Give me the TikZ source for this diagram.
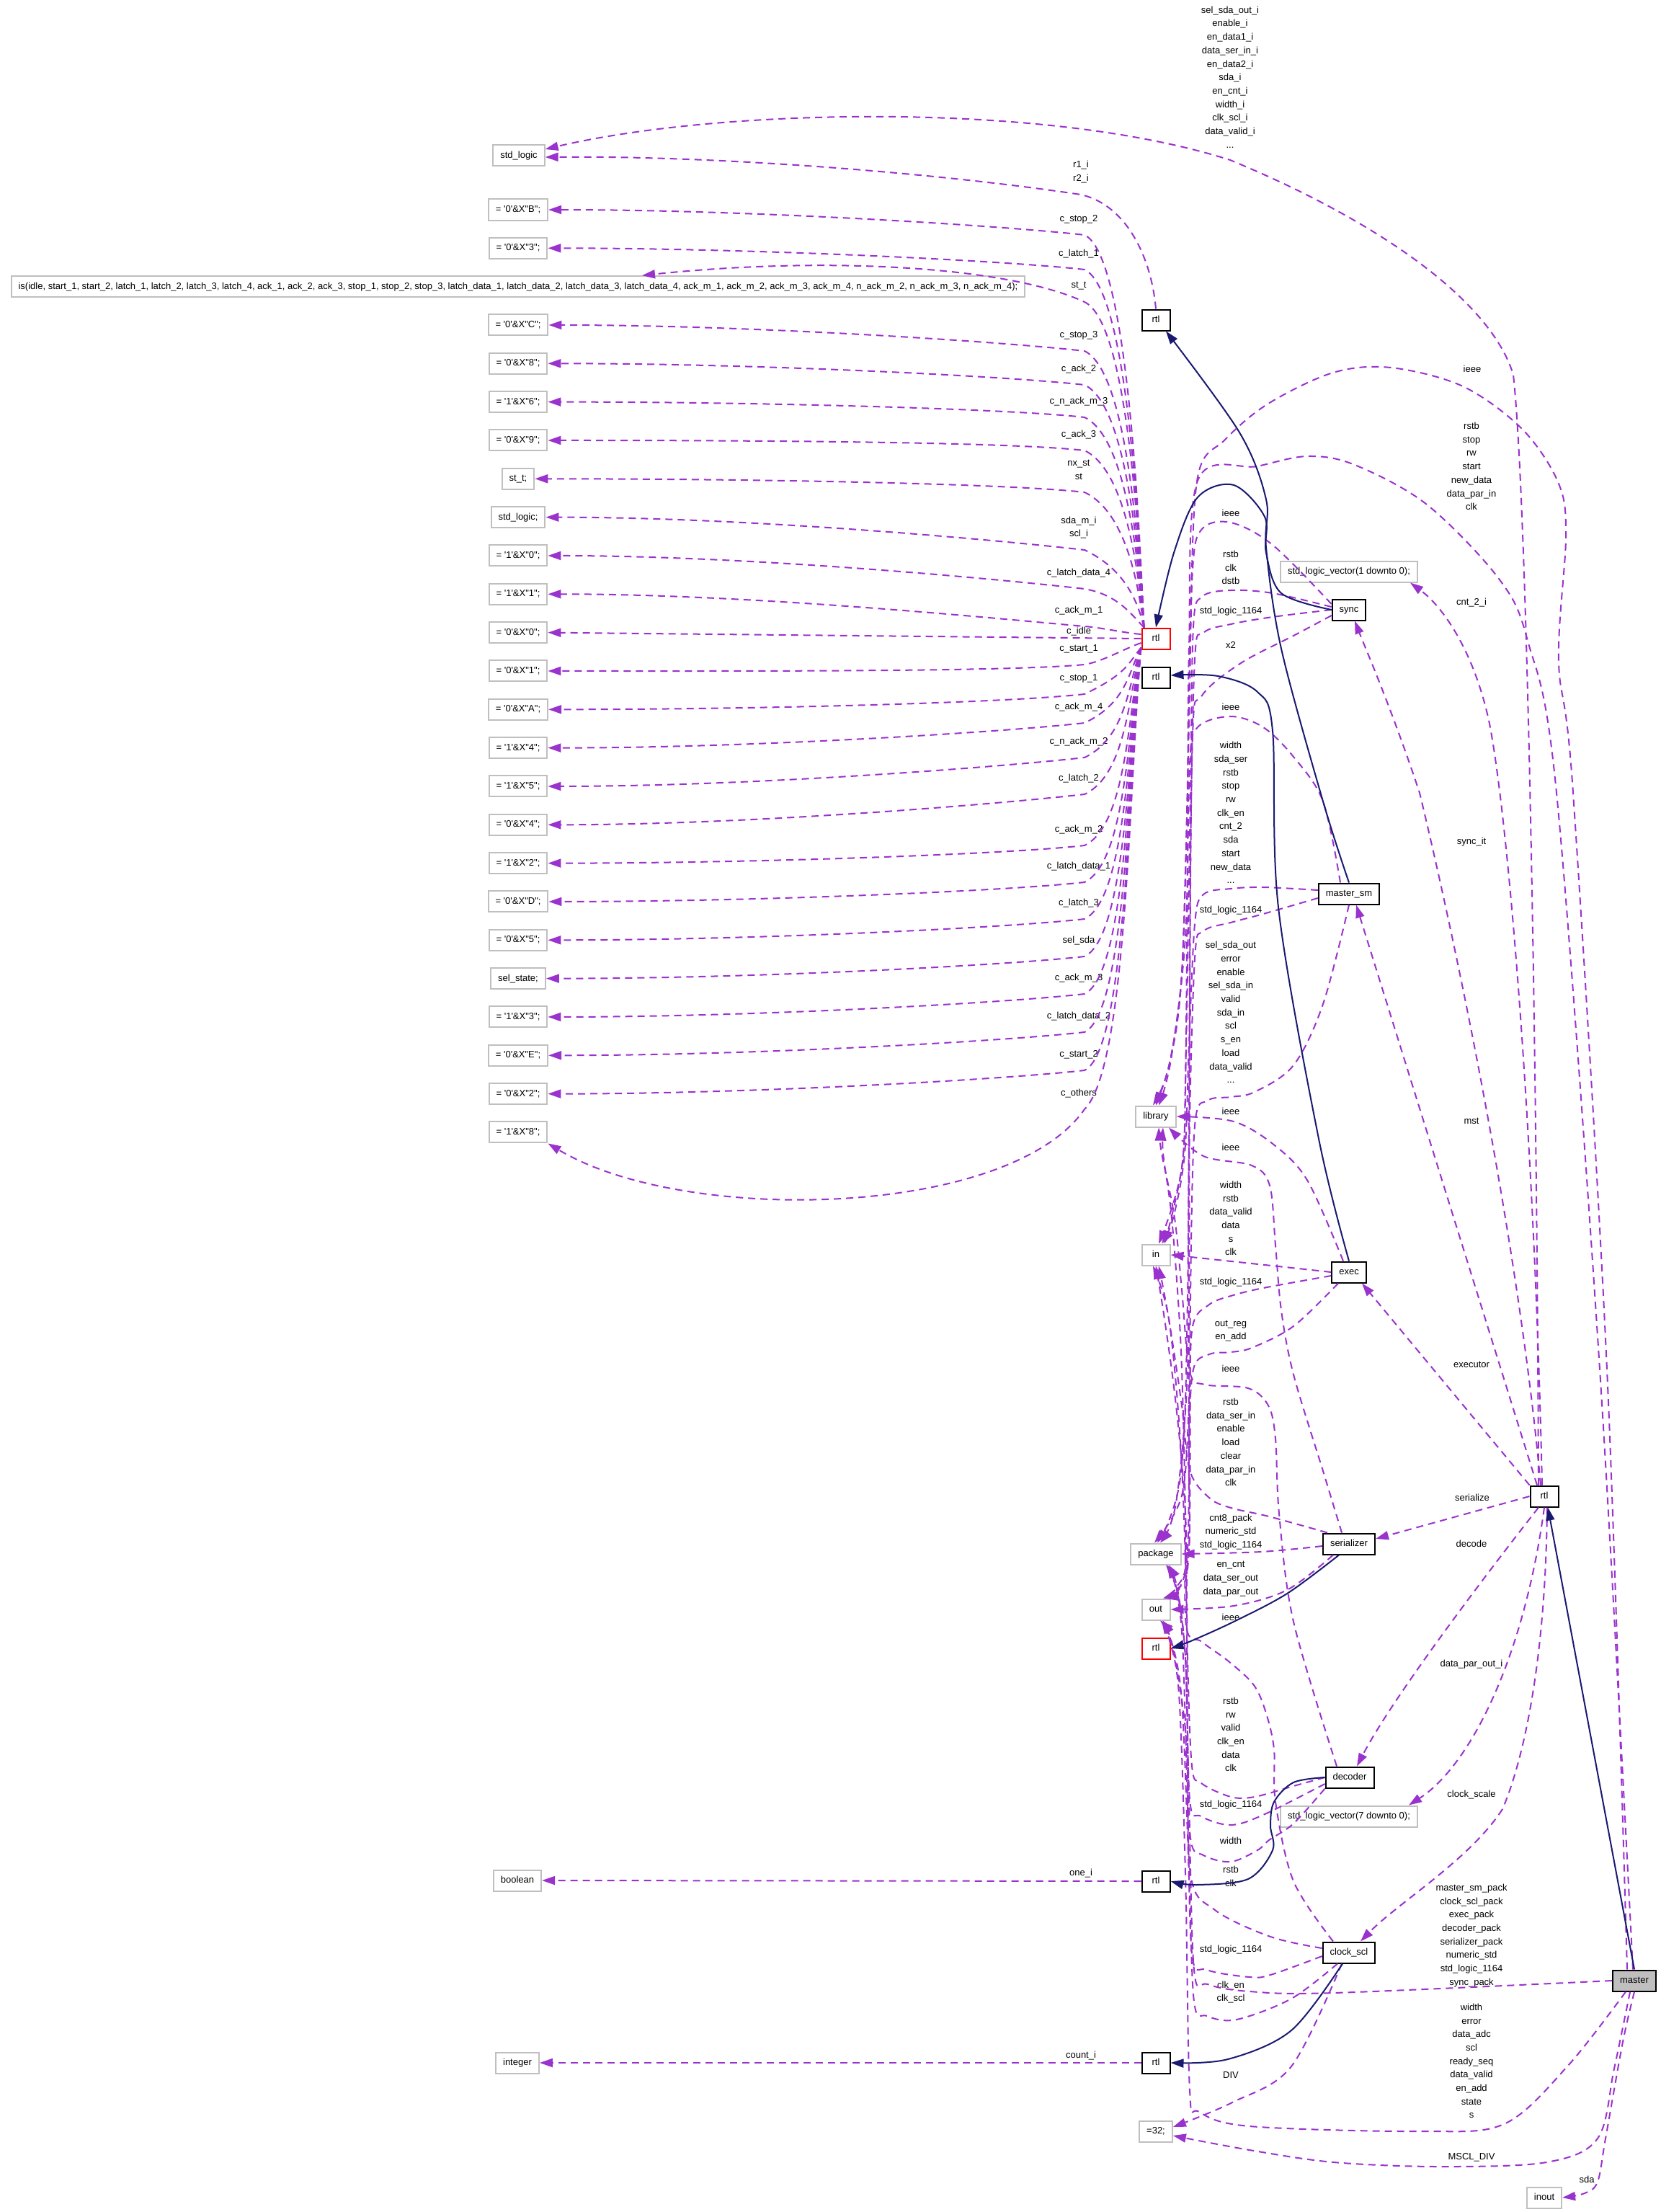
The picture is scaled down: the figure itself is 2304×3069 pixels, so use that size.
\documentclass[tikz,border=0pt]{standalone}
\usepackage{fontspec}
\newfontfamily\dxfont{Liberation Sans}
\usetikzlibrary{arrows.meta}
\definecolor{dxpurple}{HTML}{9A32CD}
\definecolor{dxnavy}{HTML}{191970}
\definecolor{dxgray}{HTML}{BFBFBF}
\tikzset{
  box/.style={draw=black, line width=2pt, fill=white, inner xsep=10pt, inner ysep=0pt,
    minimum height=29pt, minimum width=39pt, text height=9.5pt, text depth=2.5pt},
  gbox/.style={box, draw=dxgray},
  rbox/.style={box, draw=red},
  mbox/.style={box, fill=dxgray},
  lbl/.style={align=center, inner sep=0pt},
  dep/.style={draw=dxpurple, line width=2pt, dash pattern=on 10pt off 7pt,
    -{Triangle[length=18pt,width=12pt]}},
  inh/.style={draw=dxnavy, line width=2pt, -{Triangle[length=18pt,width=12pt]}},
  curvy/.style={smooth, tension=0.55},
}
\begin{document}
\begin{tikzpicture}[x=1pt, y=-1pt, font=\dxfont\fontsize{13pt}{18.7pt}\selectfont]
\fill[white] (0,0) rectangle (2304,3069);

% left column: types and constants
\node[gbox] (sl) at (720,216) {std\_logic};
\foreach \t [count=\i] in {{= '0'\&X"B";}, {= '0'\&X"3";},
  {is(idle, start\_1, start\_2, latch\_1, latch\_2, latch\_3, latch\_4, ack\_1, ack\_2, ack\_3, stop\_1, stop\_2, stop\_3, latch\_data\_1, latch\_data\_2, latch\_data\_3, latch\_data\_4, ack\_m\_1, ack\_m\_2, ack\_m\_3, ack\_m\_4, n\_ack\_m\_2, n\_ack\_m\_3, n\_ack\_m\_4);},
  {= '0'\&X"C";}, {= '0'\&X"8";}, {= '1'\&X"6";}, {= '0'\&X"9";}, {st\_t;}, {std\_logic;},
  {= '1'\&X"0";}, {= '1'\&X"1";}, {= '0'\&X"0";}, {= '0'\&X"1";}, {= '0'\&X"A";},
  {= '1'\&X"4";}, {= '1'\&X"5";}, {= '0'\&X"4";}, {= '1'\&X"2";}, {= '0'\&X"D";},
  {= '0'\&X"5";}, {sel\_state;}, {= '1'\&X"3";}, {= '0'\&X"E";}, {= '0'\&X"2";}, {= '1'\&X"8";}}
  \node[gbox] (v\i) at (719,{291+53.33*(\i-1)}) {\t};
\node[gbox] (bool) at (718,2609) {boolean};
\node[gbox] (int) at (718,2862) {integer};

% middle column
\node[box] (rtop) at (1604,444) {rtl};
\node[rbox] (rred) at (1604,886) {rtl};
\node[box] (rmid) at (1604,940) {rtl};
\node[gbox] (lib) at (1604,1549) {library};
\node[gbox] (pin) at (1604,1741) {in};
\node[gbox] (pkg) at (1604,2156) {package};
\node[gbox] (pout) at (1604,2233) {out};
\node[rbox] (rred2) at (1604,2287) {rtl};
\node[box] (rone) at (1604,2610) {rtl};
\node[box] (rcnt) at (1604,2862) {rtl};
\node[gbox] (div) at (1604,2957) {=32;};

% right column
\node[gbox] (sv1) at (1872,793) {std\_logic\_vector(1 downto 0);};
\node[box] (sync) at (1872,846) {sync};
\node[box] (msm) at (1872,1240) {master\_sm};
\node[box] (exec) at (1872,1765) {exec};
\node[box] (ser) at (1872,2142) {serializer};
\node[box] (dec) at (1873,2466) {decoder};
\node[gbox] (sv7) at (1872,2520) {std\_logic\_vector(7 downto 0);};
\node[box] (clk) at (1872,2709) {clock\_scl};
\node[box] (rr) at (2143,2076) {rtl};
\node[mbox] (mst) at (2268,2748) {master};
\node[gbox] (io) at (2143,3049) {inout};

% labels of the constant edges
\foreach \l/\ly [count=\i] in {c\_stop\_2/304, c\_latch\_1/352, st\_t/397, c\_stop\_3/465,
  c\_ack\_2/512, c\_n\_ack\_m\_3/557, c\_ack\_3/603, {nx\_st\\st}/652, {sda\_m\_i\\scl\_i}/732,
  c\_latch\_data\_4/795, c\_ack\_m\_1/847, c\_idle/876, c\_start\_1/900, c\_stop\_1/941,
  c\_ack\_m\_4/981, c\_n\_ack\_m\_2/1029, c\_latch\_2/1080, c\_ack\_m\_2/1151,
  c\_latch\_data\_1/1202, c\_latch\_3/1253, sel\_sda/1305, c\_ack\_m\_3/1357,
  c\_latch\_data\_2/1410, c\_start\_2/1463, c\_others/1517}
  \node[lbl] (lv\i) at (1497,\ly) {\l};
\node[lbl] (rt1) at (1500,238.5) {r1\_i\\r2\_i};
\node[lbl] (ro1) at (1500,2599) {one\_i};
\node[lbl] (rc1) at (1500,2852) {count\_i};

% labels next to the bundle
\node[lbl] (sy1) at (1708,712) {ieee};
\node[lbl] (sy2) at (1708,787.5) {rstb\\clk\\dstb};
\node[lbl] (sy3) at (1708,848) {std\_logic\_1164};
\node[lbl] (sy4) at (1708,895) {x2};
\node[lbl] (ms1) at (1708,981) {ieee};
\node[lbl] (ms2) at (1708,1127.5) {width\\sda\_ser\\rstb\\stop\\rw\\clk\_en\\cnt\_2\\sda\\start\\new\_data\\...};
\node[lbl] (ms3) at (1708,1263) {std\_logic\_1164};
\node[lbl] (ms4) at (1708,1404.5) {sel\_sda\_out\\error\\enable\\sel\_sda\_in\\valid\\sda\_in\\scl\\s\_en\\load\\data\_valid\\...};
\node[lbl] (ex1) at (1708,1542) {ieee};
\node[lbl] (se1) at (1708,1592) {ieee};
\node[lbl] (ex2) at (1708,1690.5) {width\\rstb\\data\_valid\\data\\s\\clk};
\node[lbl] (ex3) at (1708,1779) {std\_logic\_1164};
\node[lbl] (ex4) at (1708,1846.5) {out\_reg\\en\_add};
\node[lbl] (de1) at (1708,1899) {ieee};
\node[lbl] (se2) at (1708,2001) {rstb\\data\_ser\_in\\enable\\load\\clear\\data\_par\_in\\clk};
\node[lbl] (se3) at (1708,2125.5) {cnt8\_pack\\numeric\_std\\std\_logic\_1164};
\node[lbl] (se4) at (1708,2190.5) {en\_cnt\\data\_ser\_out\\data\_par\_out};
\node[lbl] (cs1) at (1708,2244) {ieee};
\node[lbl] (de2) at (1708,2406.5) {rstb\\rw\\valid\\clk\_en\\data\\clk};
\node[lbl] (de3) at (1708,2504) {std\_logic\_1164};
\node[lbl] (de4) at (1708,2554) {width};
\node[lbl] (cs2) at (1708,2603.5) {rstb\\clk};
\node[lbl] (cs3) at (1708,2705) {std\_logic\_1164};
\node[lbl] (cs4) at (1708,2764) {clk\_en\\clk\_scl};
\node[lbl] (cs5) at (1708,2879) {DIV};

% labels on the right
\node[lbl] (rr1) at (1707,107) {sel\_sda\_out\_i\\enable\_i\\en\_data1\_i\\data\_ser\_in\_i\\en\_data2\_i\\sda\_i\\en\_cnt\_i\\width\_i\\clk\_scl\_i\\data\_valid\_i\\...};
\node[lbl] (mr1) at (2043,512) {ieee};
\node[lbl] (mr2) at (2042,647) {rstb\\stop\\rw\\start\\new\_data\\data\_par\_in\\clk};
\node[lbl] (rr2) at (2042,836) {cnt\_2\_i};
\node[lbl] (rr3) at (2042,1168) {sync\_it};
\node[lbl] (rr4) at (2042,1555) {mst};
\node[lbl] (rr5) at (2042,1893) {executor};
\node[lbl] (rr6) at (2043,2078) {serialize};
\node[lbl] (rr7) at (2042,2142) {decode};
\node[lbl] (rr8) at (2042,2309) {data\_par\_out\_i};
\node[lbl] (rr9) at (2042,2490) {clock\_scale};
\node[lbl] (mr3) at (2042,2685.5) {master\_sm\_pack\\clock\_scl\_pack\\exec\_pack\\decoder\_pack\\serializer\_pack\\numeric\_std\\std\_logic\_1164\\sync\_pack};
\node[lbl] (mr4) at (2042,2859.5) {width\\error\\data\_adc\\scl\\ready\_seq\\data\_valid\\en\_add\\state\\s};
\node[lbl] (mr5) at (2042,2993) {MSCL\_DIV};
\node[lbl] (mr6) at (2202,3024) {sda};

% constants of the state machine
\foreach \i/\w in {1/326,2/374,4/487,5/534,6/579,7/625,8/683,9/763}
  \draw[dep] ([xshift=4pt]rred.north west) .. controls (1580,{872-(872-\w)*0.3}) and (1564,{\w+28}) .. (1505,\w)
    .. controls (1400,{\w-12}) and (1050,{291+53.33*(\i-1)}) .. (v\i.east);
\foreach \i/\w in {14/963,15/1003,16/1051,17/1102,18/1173,19/1224,20/1275,21/1327,22/1379,23/1432,24/1485}
  \draw[dep] ([yshift=3pt]rred.south west) .. controls (1566,{901+(\w-901)*0.3}) and (1564,{\w-28}) .. (1505,\w)
    .. controls (1400,{\w+12}) and (1050,{291+53.33*(\i-1)}) .. (v\i.east);
\draw[dep] ([xshift=4pt]rred.north west) .. controls (1580,736) and (1564,447) .. (1505,419)
  .. controls (1400,370) and (1150,355) .. ([xshift=172pt]v3.north);
\draw[dep] ([xshift=4pt]rred.north west) .. controls (1568,850) and (1550,825) .. (1505,817)
  .. controls (1400,805) and (1050,771) .. (v10.east);
\draw[dep] ([yshift=6pt]rred.west) .. controls (1560,878) and (1530,871) .. (1505,869)
  .. controls (1400,860) and (1050,824) .. (v11.east);
\draw[dep] (rred.west) -- (v12.east);
\draw[dep] ([yshift=-6pt]rred.west) .. controls (1560,900) and (1530,918) .. (1505,922)
  .. controls (1400,932) and (1050,931) .. (v13.east);
\draw[dep] ([yshift=3pt]rred.south west) .. controls (1566,1100) and (1564,1480) .. (1505,1539)
  .. controls (1400,1690) and (950,1700) .. (v25.south east);
\draw[dep] (rtop.north) .. controls (1598,360) and (1565,285) .. (1500,270)
  .. controls (1300,240) and (1000,216) .. ([yshift=-2pt]sl.east);
\draw[dep] (rone.west) -- (bool.east);
\draw[dep] (rcnt.west) -- (int.east);

% rtl of master
\draw[dep] ([xshift=-8pt]rr.north) .. controls (2133,1500) and (2120,700) .. (2100,520)
  .. controls (2070,420) and (1920,310) .. (1707,222) .. controls (1450,140) and (1000,150) .. ([yshift=9pt]sl.east);
\draw[dep] ([xshift=-3pt]rr.north) .. controls (2130,1600) and (2095,1150) .. (2067,1004)
  .. controls (2045,900) and (2000,840) .. ([xshift=85pt]sv1.south);
\draw[dep] ([xshift=-5pt]rr.north) .. controls (2110,1750) and (2030,1350) .. (1970,1100)
  .. controls (1930,980) and (1895,900) .. ([xshift=8pt]sync.south);
\draw[dep] ([xshift=-10pt]rr.north) -- ([xshift=10pt]msm.south);
\draw[dep] (rr.north west) -- ([xshift=18pt]exec.south);
\draw[dep] (rr.west) -- ([yshift=7pt]ser.east);
\draw[dep] ([xshift=-8pt]rr.south) .. controls (2050,2200) and (1930,2360) .. ([xshift=10pt]dec.north);
\draw[dep] (rr.south) .. controls (2115,2300) and (2040,2450) .. ([xshift=83pt]sv7.north);
\draw[dep] ([xshift=4pt]rr.south) .. controls (2145,2300) and (2115,2440) .. (2085,2510)
  .. controls (2040,2580) and (1940,2640) .. ([xshift=16pt]clk.north);

% sync
\draw[dep] plot[curvy] coordinates {([yshift=8pt]sync.west) (1766,756) (1708,725) (1668,734) (1655,790) (1650,1000) (1640,1350) (1622,1480) ([xshift=-4pt]lib.north)};
\draw[dep] plot[curvy] coordinates {([yshift=4pt]sync.west) (1766,823) (1708,819) (1668,828) (1656,870) (1652,1100) (1646,1450) (1640,1620) ([xshift=4pt]pin.north)};
\draw[dep] plot[curvy] coordinates {(sync.west) (1766,856) (1708,866) (1670,878) (1658,915) (1652,1200) (1648,1800) (1638,2050) ([xshift=2pt]pkg.north)};
\draw[dep] plot[curvy] coordinates {([yshift=-8pt]sync.west) (1795,882) (1722,920) (1668,965) (1655,1020) (1651,1400) (1650,1900) (1648,2150) (1632,2203) ([xshift=10pt]pout.north)};
% master_sm
\draw[dep] plot[curvy] coordinates {([xshift=-12pt]msm.north) (1836,1112) (1795,1050) (1753,1009) (1708,994) (1662,1009) (1651,1060) (1645,1300) (1625,1470) ([xshift=4pt]lib.north)};
\draw[dep] plot[curvy] coordinates {([yshift=5pt]msm.west) (1753,1231) (1708,1233) (1670,1241) (1658,1282) (1650,1450) (1644,1600) (1628,1690) ([xshift=8pt]pin.north)};
\draw[dep] plot[curvy] coordinates {([yshift=-6pt]msm.west) (1753,1268) (1708,1280) (1670,1292) (1658,1330) (1650,1600) (1648,1900) (1632,2085) ([xshift=6pt]pkg.north)};
\draw[dep] plot[curvy] coordinates {(msm.south) (1836,1393) (1795,1478) (1741,1515) (1708,1522) (1676,1527) (1658,1562) (1652,1800) (1650,2150) (1634,2205) ([xshift=12pt]pout.north)};
% exec
\draw[dep] plot[curvy] coordinates {([xshift=-8pt]exec.north) (1815,1639) (1770,1590) (1712,1556) (lib.east)};
\draw[dep] plot[curvy] coordinates {(exec.west) (1774,1757) (pin.east)};
\draw[dep] plot[curvy] coordinates {([yshift=-5pt]exec.west) (1753,1787) (1708,1798) (1678,1810) (1655,1840) (1650,1950) (1640,2075) ([xshift=-2pt]pkg.north)};
\draw[dep] plot[curvy] coordinates {([xshift=-15pt]exec.south) (1795,1840) (1737,1870) (1708,1876) (1678,1879) (1656,1900) (1650,2000) (1650,2150) (1636,2205) ([xshift=14pt]pout.north)};
% serializer
\draw[dep] plot[curvy] coordinates {([xshift=-10pt]ser.north) (1836,2041) (1795,1907) (1778,1818) (1770,1728) (1762,1645) (1737,1617) (1670,1604) ([xshift=18pt]lib.south)};
\draw[dep] plot[curvy] coordinates {([xshift=-30pt]ser.north) (1761,2104) (1708,2092) (1678,2078) (1651,2040) (1640,1950) (1622,1830) ([xshift=4pt]pin.south)};
\draw[dep] plot[curvy] coordinates {([yshift=-3pt]ser.west) (1750,2153) (pkg.east)};
\draw[dep] plot[curvy] coordinates {([xshift=-22pt]ser.south) (1786,2206) (1712,2228) (pout.east)};
% decoder
\draw[dep] plot[curvy] coordinates {([xshift=-18pt]dec.north) (1795,2250) (1775,2100) (1770,1996) (1760,1950) (1732,1926) (1672,1921) (1651,1903) (1640,1790) (1630,1690) (1612,1600) ([xshift=4pt]lib.south)};
\draw[dep] plot[curvy] coordinates {(dec.west) (1795,2478) (1741,2493) (1708,2493) (1667,2474) (1654,2450) (1648,2300) (1645,2100) (1632,1950) (1616,1830) (pin.south)};
\draw[dep] plot[curvy] coordinates {([yshift=-9pt]dec.west) (1753,2518) (1708,2532) (1667,2520) (1651,2497) (1645,2300) (1633,2205) ([xshift=14pt]pkg.south)};
\draw[dep] plot[curvy] coordinates {(dec.south west) (1795,2530) (1761,2553) (1745,2567) (1708,2583) (1670,2574) (1652,2550) (1645,2400) (1628,2290) ([xshift=8pt]pout.south)};
% clock_scl
\draw[dep] plot[curvy] coordinates {([xshift=-22pt]clk.north) (1795,2610) (1770,2500) (1768,2427) (1757,2377) (1740,2338) (1705,2305) (1668,2278) (1646,2255) (1645,2100) (1640,1900) (1634,1790) (1625,1680) (1614,1600) ([xshift=10pt]lib.south)};
\draw[dep] plot[curvy] coordinates {([yshift=6pt]clk.west) (1763,2687) (1686,2650) (1652,2600) (1648,2400) (1646,2200) (1638,2000) (1622,1830) ([xshift=-4pt]pin.south)};
\draw[dep] plot[curvy] coordinates {([yshift=-5pt]clk.west) (1763,2740) (1734,2743) (1675,2733) (1654,2710) (1648,2500) (1641,2280) (1632,2205) ([xshift=16pt]pkg.south)};
\draw[dep] plot[curvy] coordinates {([xshift=-16pt]clk.south) (1792,2773) (1716,2802) (1675,2797) (1657,2777) (1650,2600) (1640,2360) (1625,2275) ([xshift=6pt]pout.south)};
\draw[dep] plot[curvy] coordinates {([xshift=-10pt]clk.south) (1792,2867) (1710,2917) ([yshift=6pt]div.east)};
% master
\draw[dep] plot[curvy] coordinates {([xshift=-10pt]mst.north) (2230,1900) (2183,1100) (2163,918) (2173,745) (2163,671) (2113,596) (2030,536) (1930,510) (1850,517) (1760,560) (1700,610) (1662,662) (1652,867) (1648,1100) (1640,1350) (1624,1470) (lib.north)};
\draw[dep] plot[curvy] coordinates {([xshift=-2pt]mst.north) (2220,1900) (2160,1100) (2120,889) (2080,803) (1980,700) (1880,645) (1815,633) (1745,647) (1662,667) (1650,900) (1648,1200) (1645,1500) (1640,1620) ([xshift=12pt]pin.north)};
\draw[dep] plot[curvy] coordinates {(mst.west) (1851,2765) (1734,2763) (1676,2753) (1657,2733) (1650,2500) (1645,2300) (1634,2205) ([xshift=18pt]pkg.south)};
\draw[dep] plot[curvy] coordinates {([xshift=-12pt]mst.south) (2175,2867) (2087,2947) (1969,2957) (1734,2950) (1664,2930) (1651,2900) (1645,2600) (1636,2350) (1622,2272) ([xshift=10pt]pout.south)};
\draw[dep] plot[curvy] coordinates {([xshift=-6pt]mst.south) (2240,2870) (2217,2967) (2146,3000) (1999,3006) (1851,3000) (1734,2983) ([yshift=-6pt]div.east)};
\draw[dep] plot[curvy] coordinates {(mst.south) (2252,2833) (2228,2967) (2217,3027) (2199,3043) (io.east)};

% architectures
\draw[inh] plot[curvy] coordinates {(msm.north) (1836,1112) (1778,900) (1757,760) (1757,693) (1720,600) ([xshift=14pt]rtop.south)};
\draw[inh] plot[curvy] coordinates {(sync.west) (1778,823) (1757,767) (1755,717) (1712,673) (1662,690) (1629,767) (rred.north)};
\draw[inh] plot[curvy] coordinates {(exec.north) (1830,1580) (1774,1259) (1766,1014) (1745,960) (1690,938) ([yshift=3pt]rmid.east)};
\draw[inh] plot[curvy] coordinates {([xshift=-14pt]ser.south) (1786,2211) (1712,2250) (1650,2278) (rred2.east)};
\draw[inh] plot[curvy] coordinates {(dec.west) (1795,2473) (1768,2500) (1763,2533) (1766,2567) (1732,2607) (1660,2615) (rone.east)};
\draw[inh] plot[curvy] coordinates {([xshift=-9pt]clk.south) (1792,2817) (1704,2857) (rcnt.east)};
\draw[inh] (mst.north) -- ([xshift=5pt]rr.south);
\end{tikzpicture}
\end{document}
